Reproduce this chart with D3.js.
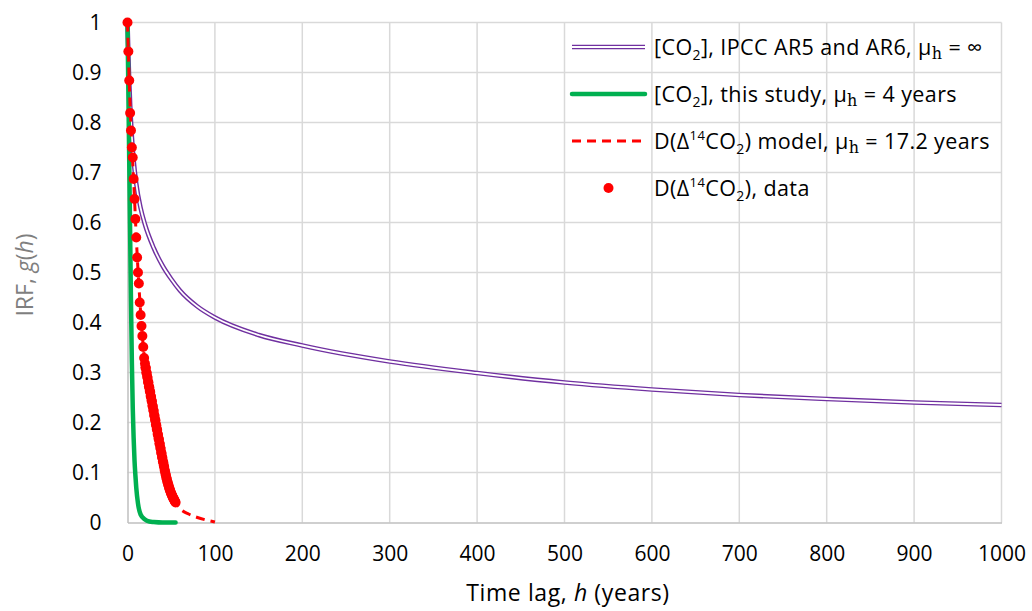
<!doctype html>
<html>
<head>
<meta charset="utf-8">
<title>IRF</title>
<style>
  body { margin: 0; background: #fff; }
  svg text { font-family: "Open Sans", "Noto Sans", sans-serif; }
</style>
</head>
<body>
<div id="chart"></div>
<script src="https://cdn.jsdelivr.net/npm/d3@7"></script>
<script>
// IPCC AR5 / AR6 CO2 impulse response
var ipccH = [0, 1, 2, 3, 5, 7, 10, 15, 20, 30, 40, 50, 60, 80, 100, 150, 200, 300, 400, 500, 600, 700, 800, 900, 1000];
var ipccG = [1, 0.935, 0.881, 0.837, 0.771, 0.725, 0.678, 0.629, 0.596, 0.549, 0.514, 0.487, 0.464, 0.432, 0.410, 0.375, 0.354, 0.322, 0.299, 0.280, 0.266, 0.255, 0.247, 0.240, 0.235];

// this study, mean 4 years
var studyH = [0, 1, 2, 3, 4, 5, 6, 7, 8, 9, 10, 12, 15, 20, 25, 30, 40, 55];
var studyG = [1, 0.86, 0.72, 0.58, 0.44, 0.32, 0.23, 0.17, 0.125, 0.095, 0.07, 0.038, 0.016, 0.006, 0.002, 0.001, 0, 0];

// D(Δ14CO2) model, mean 17.2 years
var modelH = [0, 2, 4, 6, 8, 10, 12, 14, 16, 18, 20, 25, 30, 35, 40, 45, 50, 55, 60, 70, 80, 90, 100];
var modelG = [1, 0.88, 0.79, 0.72, 0.648, 0.572, 0.505, 0.447, 0.397, 0.353, 0.318, 0.27, 0.222, 0.174, 0.128, 0.088, 0.058, 0.04, 0.028, 0.017, 0.01, 0.005, 0.001];

// D(Δ14CO2) data
var dataH = [0, 1, 2, 3, 4, 5, 6, 7, 8, 9, 10, 11, 12, 13, 14, 15, 16, 17, 18, 19,
  20, 20.5, 21, 21.5, 22, 22.5, 23, 23.5, 24, 24.5, 25, 25.5, 26, 26.5, 27, 27.5, 28, 28.5, 29, 29.5,
  30, 30.5, 31, 31.5, 32, 32.5, 33, 33.5, 34, 34.5, 35, 35.5, 36, 36.5, 37, 37.5, 38, 38.5, 39, 39.5,
  40, 40.5, 41, 41.5, 42, 42.5, 43, 43.5, 44, 44.5, 45, 45.5, 46, 46.5, 47, 47.5, 48, 48.5, 49, 49.5,
  50, 50.5, 51, 51.5, 52, 52.5, 53, 53.5, 54, 54.5, 55];
var dataG = [1, 0.942, 0.884, 0.819, 0.784, 0.75, 0.73, 0.687, 0.647, 0.607, 0.57, 0.53, 0.5, 0.478, 0.44, 0.415, 0.393, 0.373, 0.351, 0.329,
  0.318, 0.310, 0.309, 0.300, 0.299, 0.292, 0.289, 0.281, 0.280, 0.272, 0.270, 0.263, 0.261, 0.253, 0.251, 0.244, 0.242, 0.234, 0.232, 0.225,
  0.223, 0.215, 0.213, 0.206, 0.204, 0.196, 0.194, 0.187, 0.185, 0.177, 0.175, 0.168, 0.166, 0.158, 0.157, 0.150, 0.147, 0.140, 0.138, 0.131,
  0.129, 0.122, 0.120, 0.114, 0.111, 0.105, 0.102, 0.097, 0.094, 0.089, 0.087, 0.082, 0.080, 0.076, 0.074, 0.070, 0.068, 0.065, 0.063, 0.060,
  0.058, 0.056, 0.054, 0.052, 0.050, 0.048, 0.047, 0.045, 0.043, 0.042, 0.040];

var xTicks = [0, 100, 200, 300, 400, 500, 600, 700, 800, 900, 1000];
var yTicks = [0, 0.1, 0.2, 0.3, 0.4, 0.5, 0.6, 0.7, 0.8, 0.9, 1];

// legend entries: [text, style] (n normal, sub, sup, mu = μ with serif h)
var legendItems = [
  [["[CO", "n"], ["2", "sub"], ["], IPCC AR5 and AR6, ", "n"], ["", "mu"], [" = ∞", "n"]],
  [["[CO", "n"], ["2", "sub"], ["], this study, ", "n"], ["", "mu"], [" = 4 years", "n"]],
  [["D(Δ", "n"], ["14", "sup"], ["CO", "n"], ["2", "sub"], [") model, ", "n"], ["", "mu"], [" = 17.2 years", "n"]],
  [["D(Δ", "n"], ["14", "sup"], ["CO", "n"], ["2", "sub"], ["), data", "n"]]
];

var width = 1032, height = 611;
var margin = {top: 22.5, right: 30.5, bottom: 88.5, left: 127.5};

var svg = d3.select("#chart").append("svg")
  .attr("width", width).attr("height", height);

var x = d3.scaleLinear().domain([0, 1000]).range([margin.left, width - margin.right]);
var y = d3.scaleLinear().domain([0, 1]).range([height - margin.bottom, margin.top]);

// grid
svg.append("g").selectAll("line").data(xTicks.slice(1)).enter().append("line")
  .attr("x1", function(d) { return x(d); }).attr("x2", function(d) { return x(d); })
  .attr("y1", y(0)).attr("y2", y(1))
  .attr("stroke", "#d9d9d9").attr("stroke-width", 1.5);
svg.append("g").selectAll("line").data(yTicks.slice(1)).enter().append("line")
  .attr("x1", x(0)).attr("x2", x(1000))
  .attr("y1", function(d) { return y(d); }).attr("y2", function(d) { return y(d); })
  .attr("stroke", "#d9d9d9").attr("stroke-width", 1.5);

// axes
var xAxis = svg.append("g")
  .attr("transform", "translate(0," + y(0) + ")")
  .call(d3.axisBottom(x).tickValues(xTicks).tickSize(0).tickPadding(24).tickFormat(d3.format("d")));
xAxis.select(".domain").attr("stroke", "#bfbfbf").attr("stroke-width", 1.5);
xAxis.selectAll("text").attr("font-size", 21).attr("fill", "#000")
  .style("font-family", "'Open Sans', sans-serif");

var yAxis = svg.append("g")
  .attr("transform", "translate(" + x(0) + ",0)")
  .call(d3.axisLeft(y).tickValues(yTicks).tickSize(0).tickPadding(26)
    .tickFormat(function(d) { return d === 0 || d === 1 ? d3.format("d")(d) : d3.format(".1f")(d); }));
yAxis.select(".domain").attr("stroke", "#bfbfbf").attr("stroke-width", 1.5);
yAxis.selectAll("text").attr("font-size", 21).attr("fill", "#000")
  .style("font-family", "'Open Sans', sans-serif");

// axis titles
var xt = svg.append("text")
  .attr("x", 568).attr("y", 601)
  .attr("text-anchor", "middle").attr("font-size", 23).attr("letter-spacing", 0.6).attr("fill", "#000");
xt.append("tspan").text("Time lag, ");
xt.append("tspan").attr("font-style", "italic").text("h");
xt.append("tspan").text(" (years)");

var yt = svg.append("text")
  .attr("transform", "translate(33,275) rotate(-90)")
  .attr("text-anchor", "middle").attr("font-size", 23).attr("fill", "#7f7f7f");
yt.append("tspan").text("IRF, ");
yt.append("tspan").attr("font-style", "italic").text("g");
yt.append("tspan").text("(");
yt.append("tspan").attr("font-style", "italic").text("h");
yt.append("tspan").text(")");

function pts(hs, gs) {
  return hs.map(function(h, i) { return [h, gs[i]]; });
}

var line = d3.line()
  .x(function(d) { return x(d[0]); })
  .y(function(d) { return y(d[1]); })
  .curve(d3.curveMonotoneX);

// IPCC double line
svg.append("path").attr("d", line(pts(ipccH, ipccG)))
  .attr("fill", "none").attr("stroke", "#7030a0").attr("stroke-width", 4.6);
svg.append("path").attr("d", line(pts(ipccH, ipccG)))
  .attr("fill", "none").attr("stroke", "#fff").attr("stroke-width", 1.8);

// this study
svg.append("path").attr("d", line(pts(studyH, studyG)))
  .attr("fill", "none").attr("stroke", "#00b050").attr("stroke-width", 4.5)
  .attr("stroke-linecap", "round");

// model
svg.append("path").attr("d", line(pts(modelH, modelG)))
  .attr("fill", "none").attr("stroke", "#ff0000").attr("stroke-width", 3)
  .attr("stroke-dasharray", "9,6");

// data points
svg.append("g").selectAll("circle").data(pts(dataH, dataG)).enter().append("circle")
  .attr("cx", function(d) { return x(d[0]); })
  .attr("cy", function(d) { return y(d[1]); })
  .attr("r", 5).attr("fill", "#ff0000");

// legend
var lg = svg.append("g").attr("transform", "translate(572,0)");
var rows = [47, 94, 141, 188];

lg.append("line").attr("x1", 0).attr("x2", 73).attr("y1", rows[0]).attr("y2", rows[0])
  .attr("stroke", "#7030a0").attr("stroke-width", 4.6);
lg.append("line").attr("x1", 0).attr("x2", 73).attr("y1", rows[0]).attr("y2", rows[0])
  .attr("stroke", "#fff").attr("stroke-width", 1.8);
lg.append("line").attr("x1", 0).attr("x2", 73).attr("y1", rows[1]).attr("y2", rows[1])
  .attr("stroke", "#00b050").attr("stroke-width", 4.5).attr("stroke-linecap", "round");
lg.append("line").attr("x1", 0).attr("x2", 73).attr("y1", rows[2]).attr("y2", rows[2])
  .attr("stroke", "#ff0000").attr("stroke-width", 3).attr("stroke-dasharray", "9,6");
lg.append("circle").attr("cx", 36.5).attr("cy", rows[3]).attr("r", 5).attr("fill", "#ff0000");

// legend texts, each tspan given its own absolute y so shifts never carry over
legendItems.forEach(function(parts, i) {
  var base = rows[i] + 7.5;
  var t = lg.append("text").attr("x", 82).attr("y", base)
    .attr("font-size", 21.5).attr("letter-spacing", 0.4).attr("fill", "#000");
  parts.forEach(function(p) {
    if (p[1] === "n") {
      t.append("tspan").attr("y", base).text(p[0]);
    } else if (p[1] === "sub") {
      t.append("tspan").attr("y", base + 5).attr("font-size", 14).text(p[0]);
    } else if (p[1] === "sup") {
      t.append("tspan").attr("y", base - 9).attr("font-size", 13).text(p[0]);
    } else if (p[1] === "mu") {
      t.append("tspan").attr("y", base).text("μ");
      t.append("tspan").attr("y", base + 4).attr("font-size", 16)
        .attr("font-family", "'DejaVu Serif', serif").text("h");
    }
  });
});
</script>
</body>
</html>
